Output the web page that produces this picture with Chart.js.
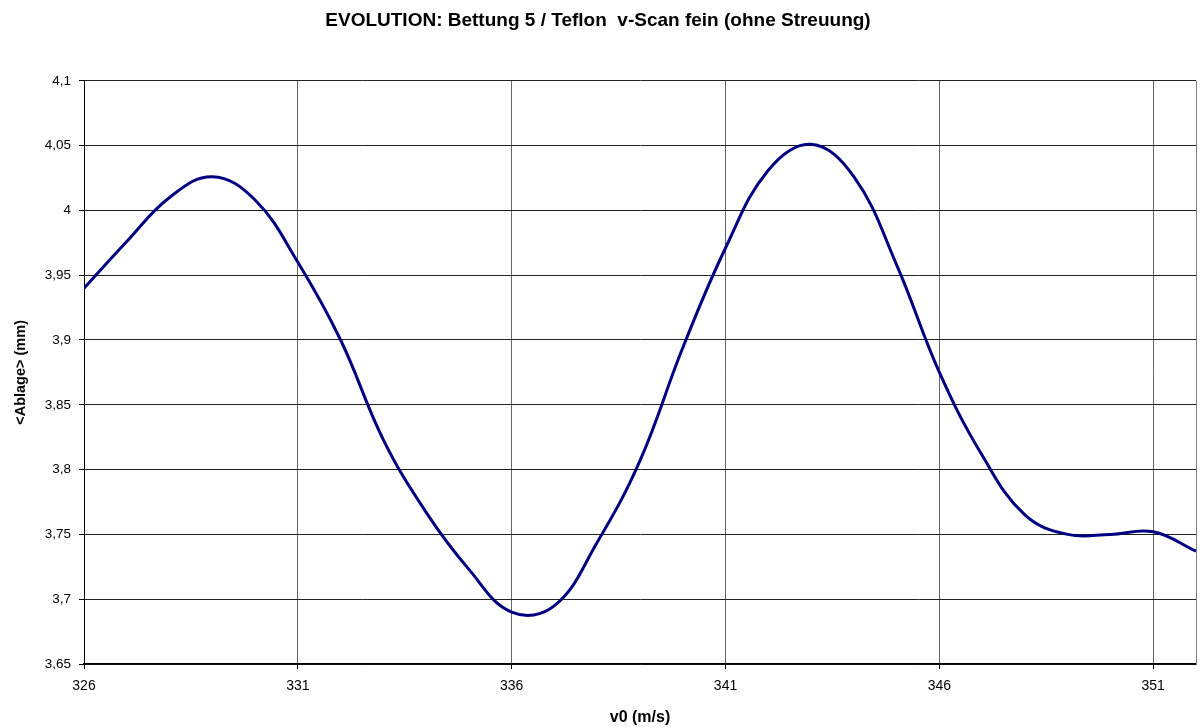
<!DOCTYPE html>
<html>

<head>
    <meta charset="utf-8">
    <title>EVOLUTION v-Scan</title>
    <style>
        html, body { margin: 0; padding: 0; background: #fff; }
        #wrap { width: 1201px; height: 727px; }
    </style>
</head>

<body>
    <div id="wrap"><canvas id="myChart" width="1201" height="727"></canvas></div>

    <script src="https://cdn.jsdelivr.net/npm/chart.js@4.4.1/dist/chart.umd.min.js"></script>
    <script type="text/javascript">
        // v0 (m/s) and <Ablage> (mm)
        var v0 = [326, 327, 328, 329, 330, 331, 332, 333, 334, 335, 336, 337, 338, 339,
                  340, 341, 342, 343, 344, 345, 346, 347, 348, 349, 350, 351, 352];
        var ablage = [3.940, 3.976, 4.010, 4.026, 4.008, 3.960, 3.900, 3.823, 3.767, 3.723,
                      3.690, 3.695, 3.744, 3.807, 3.894, 3.971, 4.031, 4.051, 4.026, 3.958,
                      3.875, 3.811, 3.765, 3.750, 3.750, 3.752, 3.737];
        var xTicks = [326, 331, 336, 341, 346, 351];
        var yTicks = [3.65, 3.7, 3.75, 3.8, 3.85, 3.9, 3.95, 4, 4.05, 4.1];

        var punkte = v0.map(function (v, i) { return { x: v, y: ablage[i] }; });

        // frame line on the right side of the plot
        var rahmen = {
            id: 'rahmen',
            afterDraw: function (c) {
                var a = c.chartArea, ctx = c.ctx;
                ctx.save();
                ctx.strokeStyle = '#808080';
                ctx.lineWidth = 1;
                ctx.beginPath();
                ctx.moveTo(a.right + 0.5, a.top);
                ctx.lineTo(a.right + 0.5, a.bottom);
                ctx.stroke();
                ctx.restore();
            }
        };

        var ctx = document.getElementById('myChart').getContext('2d');
        var chart = new Chart(ctx, {
            type: 'line',
            data: {
                datasets: [{
                    label: '<Ablage>',
                    data: punkte,
                    borderColor: '#000080',
                    borderWidth: 3,
                    pointRadius: 0,
                    tension: 0.4,
                    fill: false
                }]
            },
            plugins: [rahmen],
            options: {
                responsive: false,
                animation: false,
                layout: { padding: { left: 0, right: 5, top: 9, bottom: 0 } },
                plugins: {
                    legend: { display: false },
                    tooltip: { enabled: false },
                    title: {
                        display: true,
                        text: 'EVOLUTION: Bettung 5 / Teflon  v-Scan fein (ohne Streuung)',
                        color: '#000',
                        font: { family: 'Liberation Sans, Arial', size: 19, weight: 'bold' },
                        padding: { top: 0, bottom: 49 }
                    }
                },
                scales: {
                    x: {
                        type: 'linear',
                        min: 326,
                        max: 352,
                        afterBuildTicks: function (s) { s.ticks = xTicks.map(function (v) { return { value: v }; }); },
                        afterFit: function (s) { s.height = 63; },
                        ticks: {
                            color: '#000',
                            padding: 9,
                            maxRotation: 0,
                            font: { family: 'Liberation Sans, Arial', size: 14 }
                        },
                        grid: { color: '#666', lineWidth: 1, tickLength: 5, tickColor: '#000' },
                        border: { color: '#000', width: 1.5 },
                        title: {
                            display: true,
                            text: 'v0 (m/s)',
                            color: '#000',
                            font: { family: 'Liberation Sans, Arial', size: 16, weight: 'bold' },
                            padding: { top: 8, bottom: 0 }
                        }
                    },
                    y: {
                        min: 3.65,
                        max: 4.1,
                        afterBuildTicks: function (s) { s.ticks = yTicks.map(function (v) { return { value: v }; }); },
                        afterFit: function (s) { s.width = 84; },
                        ticks: {
                            color: '#000',
                            padding: 8,
                            font: { family: 'Liberation Sans, Arial', size: 13.5 },
                            callback: function (v) { return String(Math.round(v * 100) / 100).replace('.', ','); }
                        },
                        grid: { color: '#222', lineWidth: 1, tickLength: 5, tickColor: '#000' },
                        border: { color: '#000', width: 1 },
                        title: {
                            display: true,
                            text: '<Ablage> (mm)',
                            color: '#000',
                            font: { family: 'Liberation Sans, Arial', size: 14.5, weight: 'bold' },
                            padding: { top: 12, bottom: 0 }
                        }
                    }
                }
            }
        });
    </script>
</body>

</html>
